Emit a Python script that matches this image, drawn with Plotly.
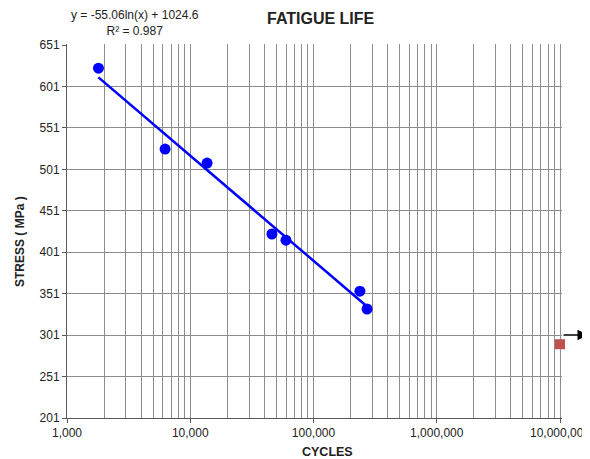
import plotly.graph_objects as go
import math

# ---- data ----
cycles = [1800, 6250, 13700, 46000, 59800, 238000, 272000]
stress = [623, 525.5, 508.5, 423, 415.5, 354, 332.5]
fit_slope = -55.06
fit_intercept = 1024.6
ref_cycles = [10000000]
ref_stress = [290]
y_ticks = [201, 251, 301, 351, 401, 451, 501, 551, 601, 651]
x_ticks = [1000, 10000, 100000, 1000000, 10000000]
x_tick_labels = ["1,000", "10,000", "100,000", "1,000,000", "10,000,000"]

fit_x = [min(cycles), max(cycles)]
fit_y = [fit_slope * math.log(v) + fit_intercept for v in fit_x]

OFF = 8  # page body margin
W, H = 590 - OFF, 459 - OFF
L, T = 67 - OFF, 44 - OFF
pw, ph = 495, 374
R, B = W - L - pw, H - T - ph
x_end = 3 + pw * 4 / 493.0
y_end = 201 + ph * 450 / 373.0

def px(x):
    return (x - OFF - L) / pw

def py(y):
    return (H - B - (y - OFF)) / ph

FONT = "Liberation Sans, Arial, sans-serif"
NARROW = "Liberation Sans Narrow, Arial Narrow, Liberation Sans, sans-serif"

fig = go.Figure()
fig.add_trace(go.Scatter(x=fit_x, y=fit_y, mode="lines",
                         line=dict(color="#0000ff", width=2.5), showlegend=False))
fig.add_trace(go.Scatter(x=cycles, y=stress, mode="markers",
                         marker=dict(color="#0000ff", size=11), showlegend=False))
fig.add_trace(go.Scatter(x=ref_cycles, y=ref_stress, mode="markers",
                         marker=dict(color="#c0504d", size=10, symbol="square"),
                         cliponaxis=False, showlegend=False))

grid = "#8c8c8c"
fig.update_xaxes(type="log", range=[3, x_end], tickvals=x_ticks, ticktext=x_tick_labels,
                 automargin=False,
                 showgrid=True, gridcolor=grid, gridwidth=1,
                 minor=dict(dtick="D1", showgrid=True, gridcolor=grid, gridwidth=1, ticks=""),
                 showline=True, linecolor="#595959", linewidth=1,
                 ticks="outside", ticklen=4, tickcolor="#595959",
                 ticklabeloverflow="allow",
                 tickfont=dict(family=FONT, size=12, color="#222"), zeroline=False)
fig.update_yaxes(range=[201, y_end], tickvals=y_ticks, automargin=False,
                 showgrid=True, gridcolor=grid, gridwidth=1,
                 showline=True, linecolor="#595959", linewidth=1,
                 ticks="outside", ticklen=4, tickcolor="#595959",
                 tickfont=dict(family=FONT, size=12, color="#222"), zeroline=False)

ann = [
    dict(text="<b>FATIGUE LIFE</b>", x=px(320.5), y=py(OFF), yanchor="top", font=dict(size=16)),
    dict(text="y = -55.06ln(x) + 1024.6<br>R² = 0.987", x=px(135), y=py(23),
         font=dict(size=12), align="center"),
    dict(text="<b>STRESS ( MPa )</b>", x=px(20), y=py(242), textangle=-90,
         font=dict(size=12, family=NARROW)),
    dict(text="<b>CYCLES</b>", x=px(327), y=py(452), font=dict(size=12.5)),
]
annotations = []
for a in ann:
    d = dict(xref="paper", yref="paper", showarrow=False, xanchor="center", yanchor="middle")
    f = dict(family=FONT, color="#222")
    f.update(a.pop("font"))
    d.update(a)
    d["font"] = f
    annotations.append(d)

annotations.append(dict(xref="paper", yref="y", x=px(588), y=301, ax=-26, ay=0,
                        showarrow=True, arrowhead=2, arrowsize=1.4, arrowwidth=1.5,
                        arrowcolor="#000", text=""))

fig.update_layout(width=W, height=H, margin=dict(l=L, r=R, t=T, b=B, autoexpand=False),
                  plot_bgcolor="white", paper_bgcolor="white",
                  annotations=annotations)
fig.write_html("out.html", config=dict(displayModeBar=False))
